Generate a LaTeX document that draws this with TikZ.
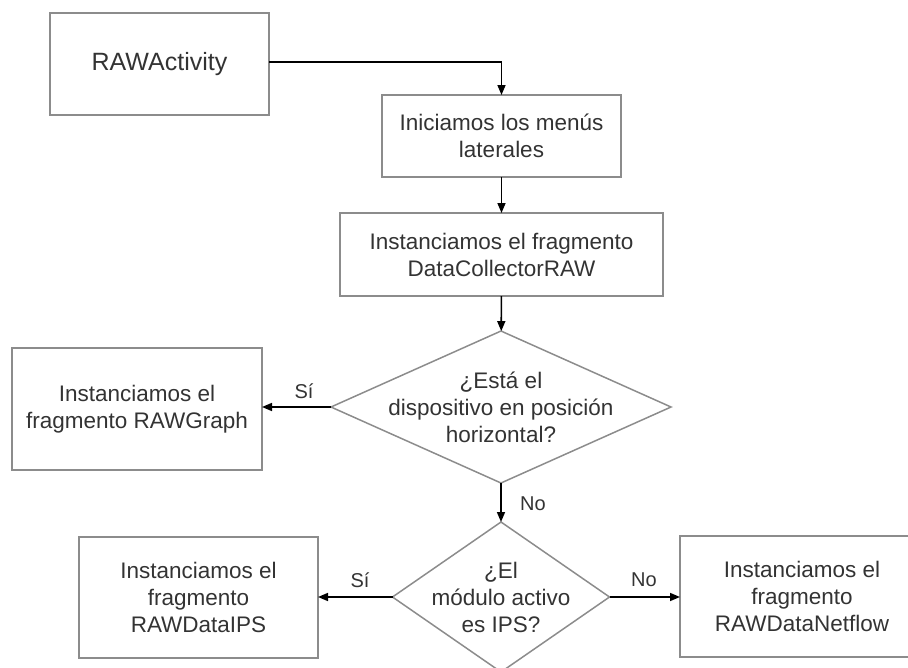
\documentclass[tikz,border=0pt]{standalone}
\usepackage{fontspec}
\setmainfont{Liberation Sans}
\usetikzlibrary{shapes.geometric,arrows.meta}
\definecolor{boxgray}{HTML}{8C8C8C}
\definecolor{txtgray}{HTML}{333333}
\tikzset{
  box/.style={draw=boxgray, line width=1.5pt, rectangle, inner sep=0pt, outer sep=0pt,
    align=center, text=txtgray, font=\fontsize{22.5}{27}\selectfont},
  decision/.style={draw=boxgray, line width=1.5pt, diamond, inner sep=0pt, outer sep=0pt},
  dtext/.style={align=center, text=txtgray, font=\fontsize{22.5}{27}\selectfont, inner sep=0pt},
  flow/.style={draw=black, line width=1.6pt, -{Triangle[length=10pt,width=8pt]}},
  lbl/.style={text=txtgray, font=\fontsize{20}{24}\selectfont, inner sep=0pt}
}
\begin{document}
\begin{tikzpicture}[x=1pt,y=-1pt]
\useasboundingbox (0,0) rectangle (908,667);
\clip (0,0) rectangle (908,667);
\node[box, minimum width=219pt, minimum height=102pt, font=\fontsize{25}{30}\selectfont] (act) at (159.5,64) {RAWActivity};
\coordinate (actout) at (269,62);
\node[box, minimum width=239pt, minimum height=82pt] (ini) at (501.5,136) {Iniciamos los menús\\laterales};
\node[box, minimum width=323pt, minimum height=83pt] (inst) at (501.5,254.5) {Instanciamos el fragmento\\DataCollectorRAW};
\node[decision, minimum width=340pt, minimum height=152pt,
  label={[dtext]center:¿Está el\\dispositivo en posición\\horizontal?}] (d1) at (501,407) {};
\node[box, minimum width=250pt, minimum height=122pt] (graph) at (137,409) {Instanciamos el\\fragmento RAWGraph};
\node[decision, minimum width=217pt, minimum height=150pt,
  label={[dtext]center:¿El\\módulo activo\\es IPS?}] (d2) at (501,597) {};
\node[box, minimum width=239pt, minimum height=121pt] (ips) at (198.5,597.5) {Instanciamos el\\fragmento\\RAWDataIPS};
\node[box, minimum width=244pt, minimum height=121pt] (net) at (802,596.5) {Instanciamos el\\fragmento\\RAWDataNetflow};

\draw[flow] (actout) -| (ini.north);
\draw[flow] (ini) -- (inst);
\draw[flow] (inst) -- (d1);
\draw[flow] (d1.west) -- (d1.west -| graph.east);
\draw[flow] (d1) -- (d2);
\draw[flow] (d2.west) -- (d2.west -| ips.east);
\draw[flow] (d2.east) -- (d2.east -| net.west);

\node[lbl] (si1) at (304,391) {Sí};
\node[lbl] (no1) at (533,504) {No};
\node[lbl] (si2) at (360,580) {Sí};
\node[lbl] (no2) at (644,580) {No};
\end{tikzpicture}
\end{document}
